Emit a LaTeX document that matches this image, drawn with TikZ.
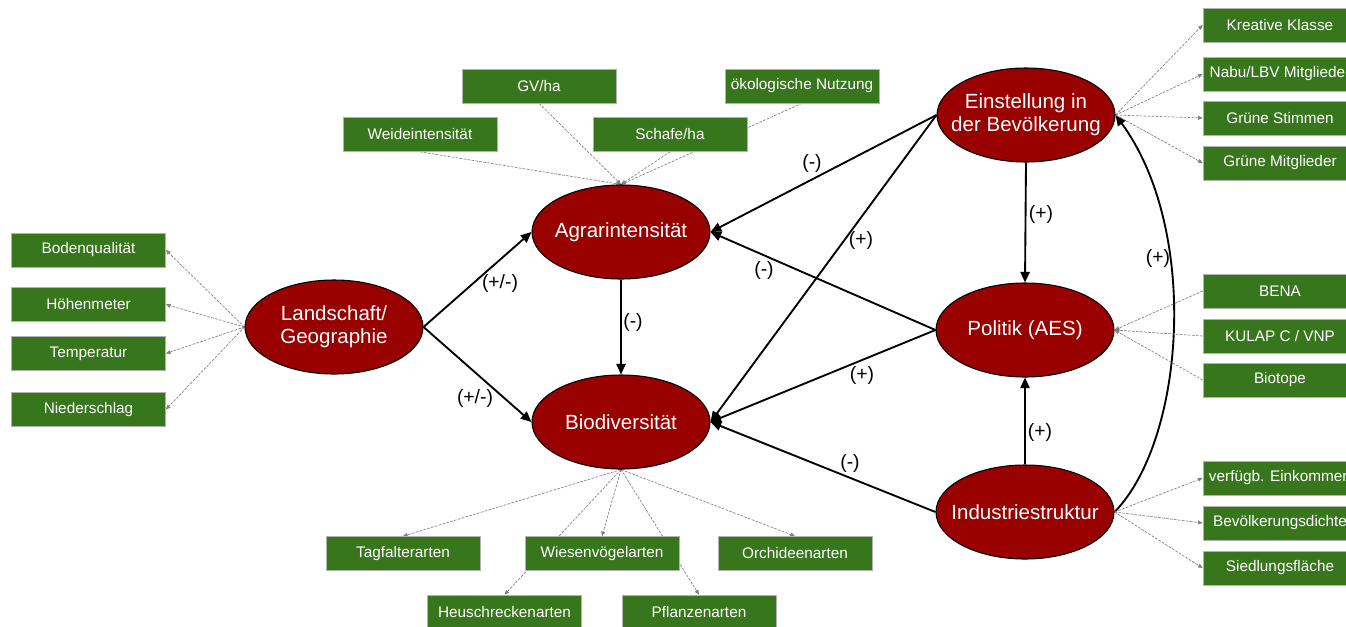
\documentclass[tikz,border=0pt]{standalone}
\usepackage{fontspec}
\setmainfont{Liberation Sans}
\usetikzlibrary{arrows.meta,shapes.geometric}
\definecolor{ovalred}{RGB}{153,0,0}
\definecolor{boxgreen}{RGB}{56,118,29}
\pgfdeclarelayer{bg}
\pgfsetlayers{bg,main}
\begin{document}
\begin{tikzpicture}[x=0.75pt,y=-0.75pt,
  oval/.style={ellipse, draw=black, line width=0.8pt, fill=ovalred, text=white, align=center,
    font=\fontsize{15.4}{17.5}\selectfont, minimum width=133.5pt, minimum height=70.5pt, inner sep=-14pt},
  ind/.style={rectangle, draw=black!30, line width=0.5pt, fill=boxgreen, text=white,
    font=\fontsize{11.5}{13}\selectfont, minimum width=115.5pt, minimum height=25.5pt, inner sep=0pt},
  causal/.style={line width=1.4pt, -{Triangle[length=8pt,width=7pt]}},
  meas/.style={draw=black!50, line width=0.5pt, dash pattern=on 2pt off 1pt, -{Triangle[length=3.5pt,width=3pt]}},
  sign/.style={font=\fontsize{14.5}{16}\selectfont, inner sep=0pt}
]
\useasboundingbox (0,0) rectangle (1346,626);

% latent variables
\node[oval] (L) at (334,327) {Landschaft/\\Geographie};
\node[oval] (A) at (621,232) {Agrarintensität};
\node[oval] (B) at (621,422) {Biodiversität};
\node[oval] (E) at (1026,115) {Einstellung in\\der Bevölkerung};
\node[oval] (P) at (1025,330) {Politik (AES)};
\node[oval] (I) at (1025,512) {Industriestruktur};

% indicators left
\node[ind] (boden) at (88.5,250) {Bodenqualität};
\node[ind] (hoehe) at (88.5,304.5) {Höhenmeter};
\node[ind] (temp) at (88.5,353.5) {Temperatur};
\node[ind] (nied) at (88.5,409.5) {Niederschlag};

% indicators top
\node[ind] (gv) at (539,86) {GV/ha};
\node[ind] (weide) at (420,134.5) {Weideintensität};
\node[ind] (schafe) at (670,134.5) {Schafe/ha};
\node[ind] (oeko) at (802,86) {ökologische Nutzung};

% indicators right
\node[ind] (krea) at (1280,25) {Kreative Klasse};
\node[ind] (nabu) at (1280,74) {Nabu/LBV Mitglieder};
\node[ind] (gstim) at (1280,118) {Grüne Stimmen};
\node[ind] (gmit) at (1280,163) {Grüne Mitglieder};
\node[ind] (bena) at (1280,291) {BENA};
\node[ind] (kulap) at (1280,336) {KULAP C / VNP};
\node[ind] (biot) at (1280,380) {Biotope};
\node[ind] (eink) at (1280,478) {verfügb. Einkommen};
\node[ind] (dichte) at (1280,523) {Bevölkerungsdichte};
\node[ind] (sied) at (1280,568) {Siedlungsfläche};

% indicators bottom
\node[ind] (tag) at (403,553.5) {Tagfalterarten};
\node[ind] (wies) at (602,553.5) {Wiesenvögelarten};
\node[ind] (orch) at (795,553.5) {Orchideenarten};
\node[ind] (heu) at (504.5,612) {Heuschreckenarten};
\node[ind] (pfl) at (699,612) {Pflanzenarten};

% signs
\node[sign] (s1) at (500,283) {(+/-)};
\node[sign] (s2) at (475,398) {(+/-)};
\node[sign] (s3) at (633,322) {(-)};
\node[sign] (s4) at (812,163) {(-)};
\node[sign] (s5) at (861,240) {(+)};
\node[sign] (s6) at (764,270) {(-)};
\node[sign] (s7) at (862,375) {(+)};
\node[sign] (s8) at (850,463) {(-)};
\node[sign] (s9) at (1041,214) {(+)};
\node[sign] (s10) at (1040,432) {(+)};
\node[sign] (s11) at (1158,258) {(+)};

\begin{pgfonlayer}{bg}
% causal paths
\draw[causal] (L.east) -- (A.west);
\draw[causal] (L.east) -- (B.west);
\draw[causal] (A.south) -- (B.north);
\draw[causal] (E.west) -- (A.east);
\draw[causal] (E.west) -- (B.east);
\draw[causal] (P.west) -- (A.east);
\draw[causal] (P.west) -- (B.east);
\draw[causal] (I.west) -- (B.east);
\draw[causal] (E.south) -- (P.north);
\draw[causal] (I.north) -- (P.south);
\draw[causal] (I.east) .. controls (1185,440) and (1200,230) .. (E.east);

% measurement paths
\draw[meas] (L.west) -- (boden.east);
\draw[meas] (L.west) -- (hoehe.east);
\draw[meas] (L.west) -- (temp.east);
\draw[meas] (L.west) -- (nied.east);
\draw[meas] (weide.south) -- (A.north);
\draw[meas] (gv.south) -- (A.north);
\draw[meas] (schafe.south) -- (A.north);
\draw[meas] (oeko.south) -- (A.north);
\draw[meas] (E.east) -- (krea.west);
\draw[meas] (E.east) -- (nabu.west);
\draw[meas] (E.east) -- (gstim.west);
\draw[meas] (E.east) -- (gmit.west);
\draw[meas] (bena.west) -- (P.east);
\draw[meas] (kulap.west) -- (P.east);
\draw[meas] (biot.west) -- (P.east);
\draw[meas] (I.east) -- (eink.west);
\draw[meas] (I.east) -- (dichte.west);
\draw[meas] (I.east) -- (sied.west);
\draw[meas] (B.south) -- (tag.north);
\draw[meas] (B.south) -- (wies.north);
\draw[meas] (B.south) -- (orch.north);
\draw[meas] (B.south) -- (heu.north);
\draw[meas] (B.south) -- (pfl.north);
\end{pgfonlayer}
\end{tikzpicture}
\end{document}
